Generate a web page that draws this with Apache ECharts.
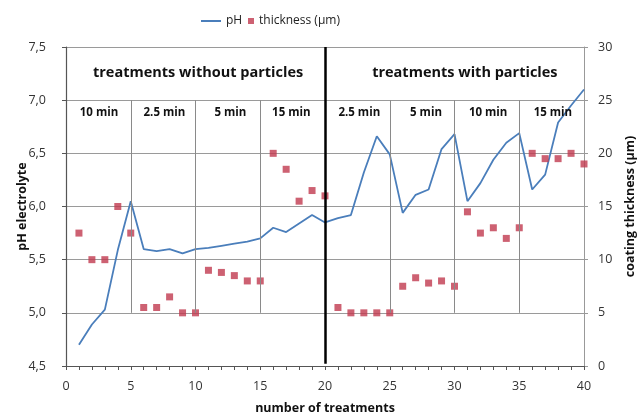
<!DOCTYPE html>
<html><head><meta charset="utf-8">
<script src="https://cdn.jsdelivr.net/npm/echarts@6/dist/echarts.min.js"></script>
<style>html,body{margin:0;padding:0;background:#fff}#c{width:641px;height:416px}</style>
</head><body><div id="c"></div>
<script>
const treatments = [1,2,3,4,5,6,7,8,9,10,11,12,13,14,15,16,17,18,19,20,21,22,23,24,25,26,27,28,29,30,31,32,33,34,35,36,37,38,39,40];
const phValues = [4.70,4.89,5.03,5.59,6.05,5.60,5.58,5.60,5.56,5.60,5.61,5.63,5.65,5.67,5.70,5.80,5.76,5.84,5.92,5.85,5.89,5.92,6.32,6.66,6.49,5.94,6.11,6.16,6.54,6.68,6.05,6.22,6.44,6.60,6.69,6.16,6.30,6.79,6.95,7.10];
const thicknessValues = [12.5,10,10,15,12.5,5.5,5.5,6.5,5,5,9,8.8,8.5,8,8,20,18.5,15.5,16.5,16,5.5,5,5,5,5,7.5,8.3,7.8,8,7.5,14.5,12.5,13,12,13,20,19.5,19.5,20,19];
const groupLabels = [{text:'treatments without particles', x:10.2}, {text:'treatments with particles', x:30.8}];
const durationLabels = [{text:'10 min',x:2.55},{text:'2.5 min',x:7.6},{text:'5 min',x:12.7},{text:'15 min',x:17.4},{text:'2.5 min',x:22.65},{text:'5 min',x:27.8},{text:'10 min',x:32.6},{text:'15 min',x:37.6}];
const dividerX = [5,10,15,25,30,35];
const phTicks = {min:4.5, max:7.5, interval:0.5};
const thickTicks = {min:0, max:30, interval:5};

const FONT = '"Open Sans", "Liberation Sans", sans-serif';
const chart = echarts.init(document.getElementById('c'));

const markPts = [];
groupLabels.forEach(g => markPts.push({coord:[g.x, 7.26], value:g.text,
  label:{fontSize:14.5, fontWeight:'bold', color:'#111'}}));
durationLabels.forEach(d => markPts.push({coord:[d.x, 6.88], value:d.text,
  label:{fontSize:11.5, fontWeight:'bold', color:'#111'}}));

const mLines = dividerX.map(x => [{coord:[x,5.0]},{coord:[x,7.0]}]);
mLines.push([{coord:[20,7.5], lineStyle:{color:'#000', width:2.5}},{coord:[20,4.52]}]);

chart.setOption({
  animation:false,
  textStyle:{fontFamily:FONT},
  legend:[
    {data:[{name:'pH', icon:'path://M0,0L20,0L20,2L0,2Z'}], left:196, top:10, itemWidth:20, itemHeight:2, itemGap:6,
     textStyle:{fontFamily:FONT, fontSize:12, color:'#222'}},
    {data:['thickness (µm)'], left:243, top:10, icon:'rect', itemWidth:6, itemHeight:6,
     textStyle:{fontFamily:FONT, fontSize:12, color:'#222'}}
  ],
  grid:{left:66, right:57, top:47, bottom:50, containLabel:false, outerBoundsMode:'none'},
  xAxis:{type:'value', min:0, max:40, interval:5,
    name:'number of treatments', nameLocation:'middle', nameGap:36, nameMoveOverlap:false,
    nameTextStyle:{fontFamily:FONT, fontWeight:'bold', fontSize:12.5, color:'#111'},
    axisLine:{lineStyle:{color:'#555', width:1.2}},
    axisTick:{show:true, length:4, lineStyle:{color:'#555'}},
    minorTick:{show:true, splitNumber:5, length:4, lineStyle:{color:'#555'}},
    axisLabel:{fontFamily:FONT, fontSize:12.5, color:'#333', margin:14},
    splitLine:{show:false}},
  yAxis:[
    {type:'value', min:phTicks.min, max:phTicks.max, interval:phTicks.interval,
     name:'pH electrolyte', nameLocation:'middle', nameGap:37, nameRotate:90, nameMoveOverlap:false,
     nameTextStyle:{fontFamily:FONT, fontWeight:'bold', fontSize:12.5, color:'#111'},
     axisLine:{show:true, lineStyle:{color:'#555', width:1.2}},
     axisTick:{show:true, length:4, lineStyle:{color:'#555'}},
     axisLabel:{fontFamily:FONT, fontSize:12.5, color:'#333', margin:20,
       formatter:v => v.toFixed(1).replace('.',',')},
     splitLine:{show:true, lineStyle:{color:'#9a9a9a', width:1}}},
    {type:'value', min:thickTicks.min, max:thickTicks.max, interval:thickTicks.interval,
     name:'coating thickness (µm)', nameLocation:'middle', nameGap:40, nameRotate:90, nameMoveOverlap:false,
     nameTextStyle:{fontFamily:FONT, fontWeight:'bold', fontSize:12.5, color:'#111'},
     axisLine:{show:true, lineStyle:{color:'#999', width:1}},
     axisTick:{show:true, length:4, lineStyle:{color:'#999'}},
     axisLabel:{fontFamily:FONT, fontSize:12.5, color:'#333', margin:14},
     splitLine:{show:false}}
  ],
  series:[
    {name:'pH', type:'line', yAxisIndex:0, symbol:'none',
     data:treatments.map((t,i)=>[t, phValues[i]]),
     lineStyle:{color:'#4A7EBB', width:1.8}, itemStyle:{color:'#4A7EBB'},
     markLine:{silent:true, symbol:'none', label:{show:false},
       lineStyle:{color:'#8a8a8a', width:1, type:'solid'}, data:mLines},
     markPoint:{silent:true, symbol:'rect', symbolSize:0,
       label:{show:true, position:'inside', formatter:p=>p.value, fontFamily:FONT}, data:markPts},
     z:3},
    {name:'thickness (µm)', type:'scatter', yAxisIndex:1, symbol:'rect', symbolSize:7,
     data:treatments.map((t,i)=>[t, thicknessValues[i]]),
     itemStyle:{color:'#C0394F'}, z:4}
  ]
});
</script></body></html>
